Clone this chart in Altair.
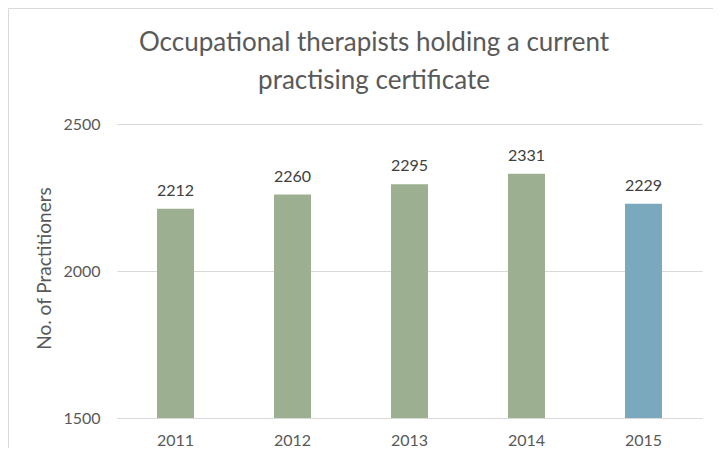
import altair as alt
import pandas as pd

years = ["2011", "2012", "2013", "2014", "2015"]
practitioners = [2212, 2260, 2295, 2331, 2229]
period = ["Previous", "Previous", "Previous", "Previous", "Current"]
title_lines = ["Occupational therapists holding a current", "practising certificate"]
top_text = "As at March 31 2015"
y_ticks = [1500, 2000, 2500]
y_domain = [1500, 2500]
axis_title = "No. of Practitioners"

df = pd.DataFrame({"Year": years, "Practitioners": practitioners, "Period": period})

FONT = "Lato"
W, H = 585, 294
GREY = "#595959"
LINE = "#d9d9d9"

x_enc = alt.X(
    "Year:N",
    sort=years,
    scale=alt.Scale(paddingInner=0.684, paddingOuter=0.342),
    axis=alt.Axis(
        title=None, labelAngle=0, labelFont=FONT, labelFontSize=16,
        labelColor=GREY, labelPadding=14, ticks=False,
        domainColor=LINE, domainWidth=1, grid=False,
    ),
)
y_enc = alt.Y(
    "Practitioners:Q",
    scale=alt.Scale(domain=y_domain, zero=False, nice=False),
    axis=alt.Axis(
        values=y_ticks, format="d", title=axis_title, titleFont=FONT, titleFontSize=19,
        titleFontWeight="normal", titleColor=GREY, titleX=-73, titleY=144,
        titleAngle=270, titleAlign="center", titleBaseline="middle",
        labelFont=FONT, labelFontSize=16, labelColor=GREY, labelPadding=17,
        ticks=False, domain=False, grid=True, gridColor=LINE, gridWidth=1,
    ),
)

base = alt.Chart(df)

bars = base.mark_bar().encode(
    x=x_enc,
    y=y_enc,
    y2=alt.datum(1500),
    color=alt.Color(
        "Period:N",
        scale=alt.Scale(domain=["Previous", "Current"], range=["#9DAF91", "#7AA8BD"]),
        legend=None,
    ),
)

labels = base.mark_text(
    font=FONT, fontSize=16, color="#404040", baseline="alphabetic", dy=-13
).encode(
    x=alt.X("Year:N", sort=years),
    y=alt.Y("Practitioners:Q"),
    text=alt.Text("Practitioners:Q", format="d"),
)

border = alt.Chart(pd.DataFrame({"b": [0]})).mark_rect(
    fill="transparent", stroke=LINE, strokeWidth=1
).encode(
    x=alt.value(-108.5), x2=alt.value(700), y=alt.value(-115.5), y2=alt.value(400)
)

def text_line(txt, ypos, size, color):
    return alt.Chart(pd.DataFrame({"t": [txt]})).mark_text(
        font=FONT, fontSize=size, color=color, align="center", baseline="alphabetic"
    ).encode(text="t:N", x=alt.value(257), y=alt.value(ypos))

title1 = text_line(title_lines[0], -73, 26, GREY)
title2 = text_line(title_lines[1], -35, 26, GREY)
topline = text_line(top_text, -118, 26, "#000000")

chart = alt.layer(border, bars, labels, title1, title2, topline).properties(
    width=W,
    height=H,
    padding={"left": 109, "top": 116, "right": 11, "bottom": 30},
    autosize=alt.AutoSizeParams(type="none"),
    background="white",
).configure_view(stroke=None)

chart.save("out.html", embed_options={"renderer": "svg", "actions": False})
